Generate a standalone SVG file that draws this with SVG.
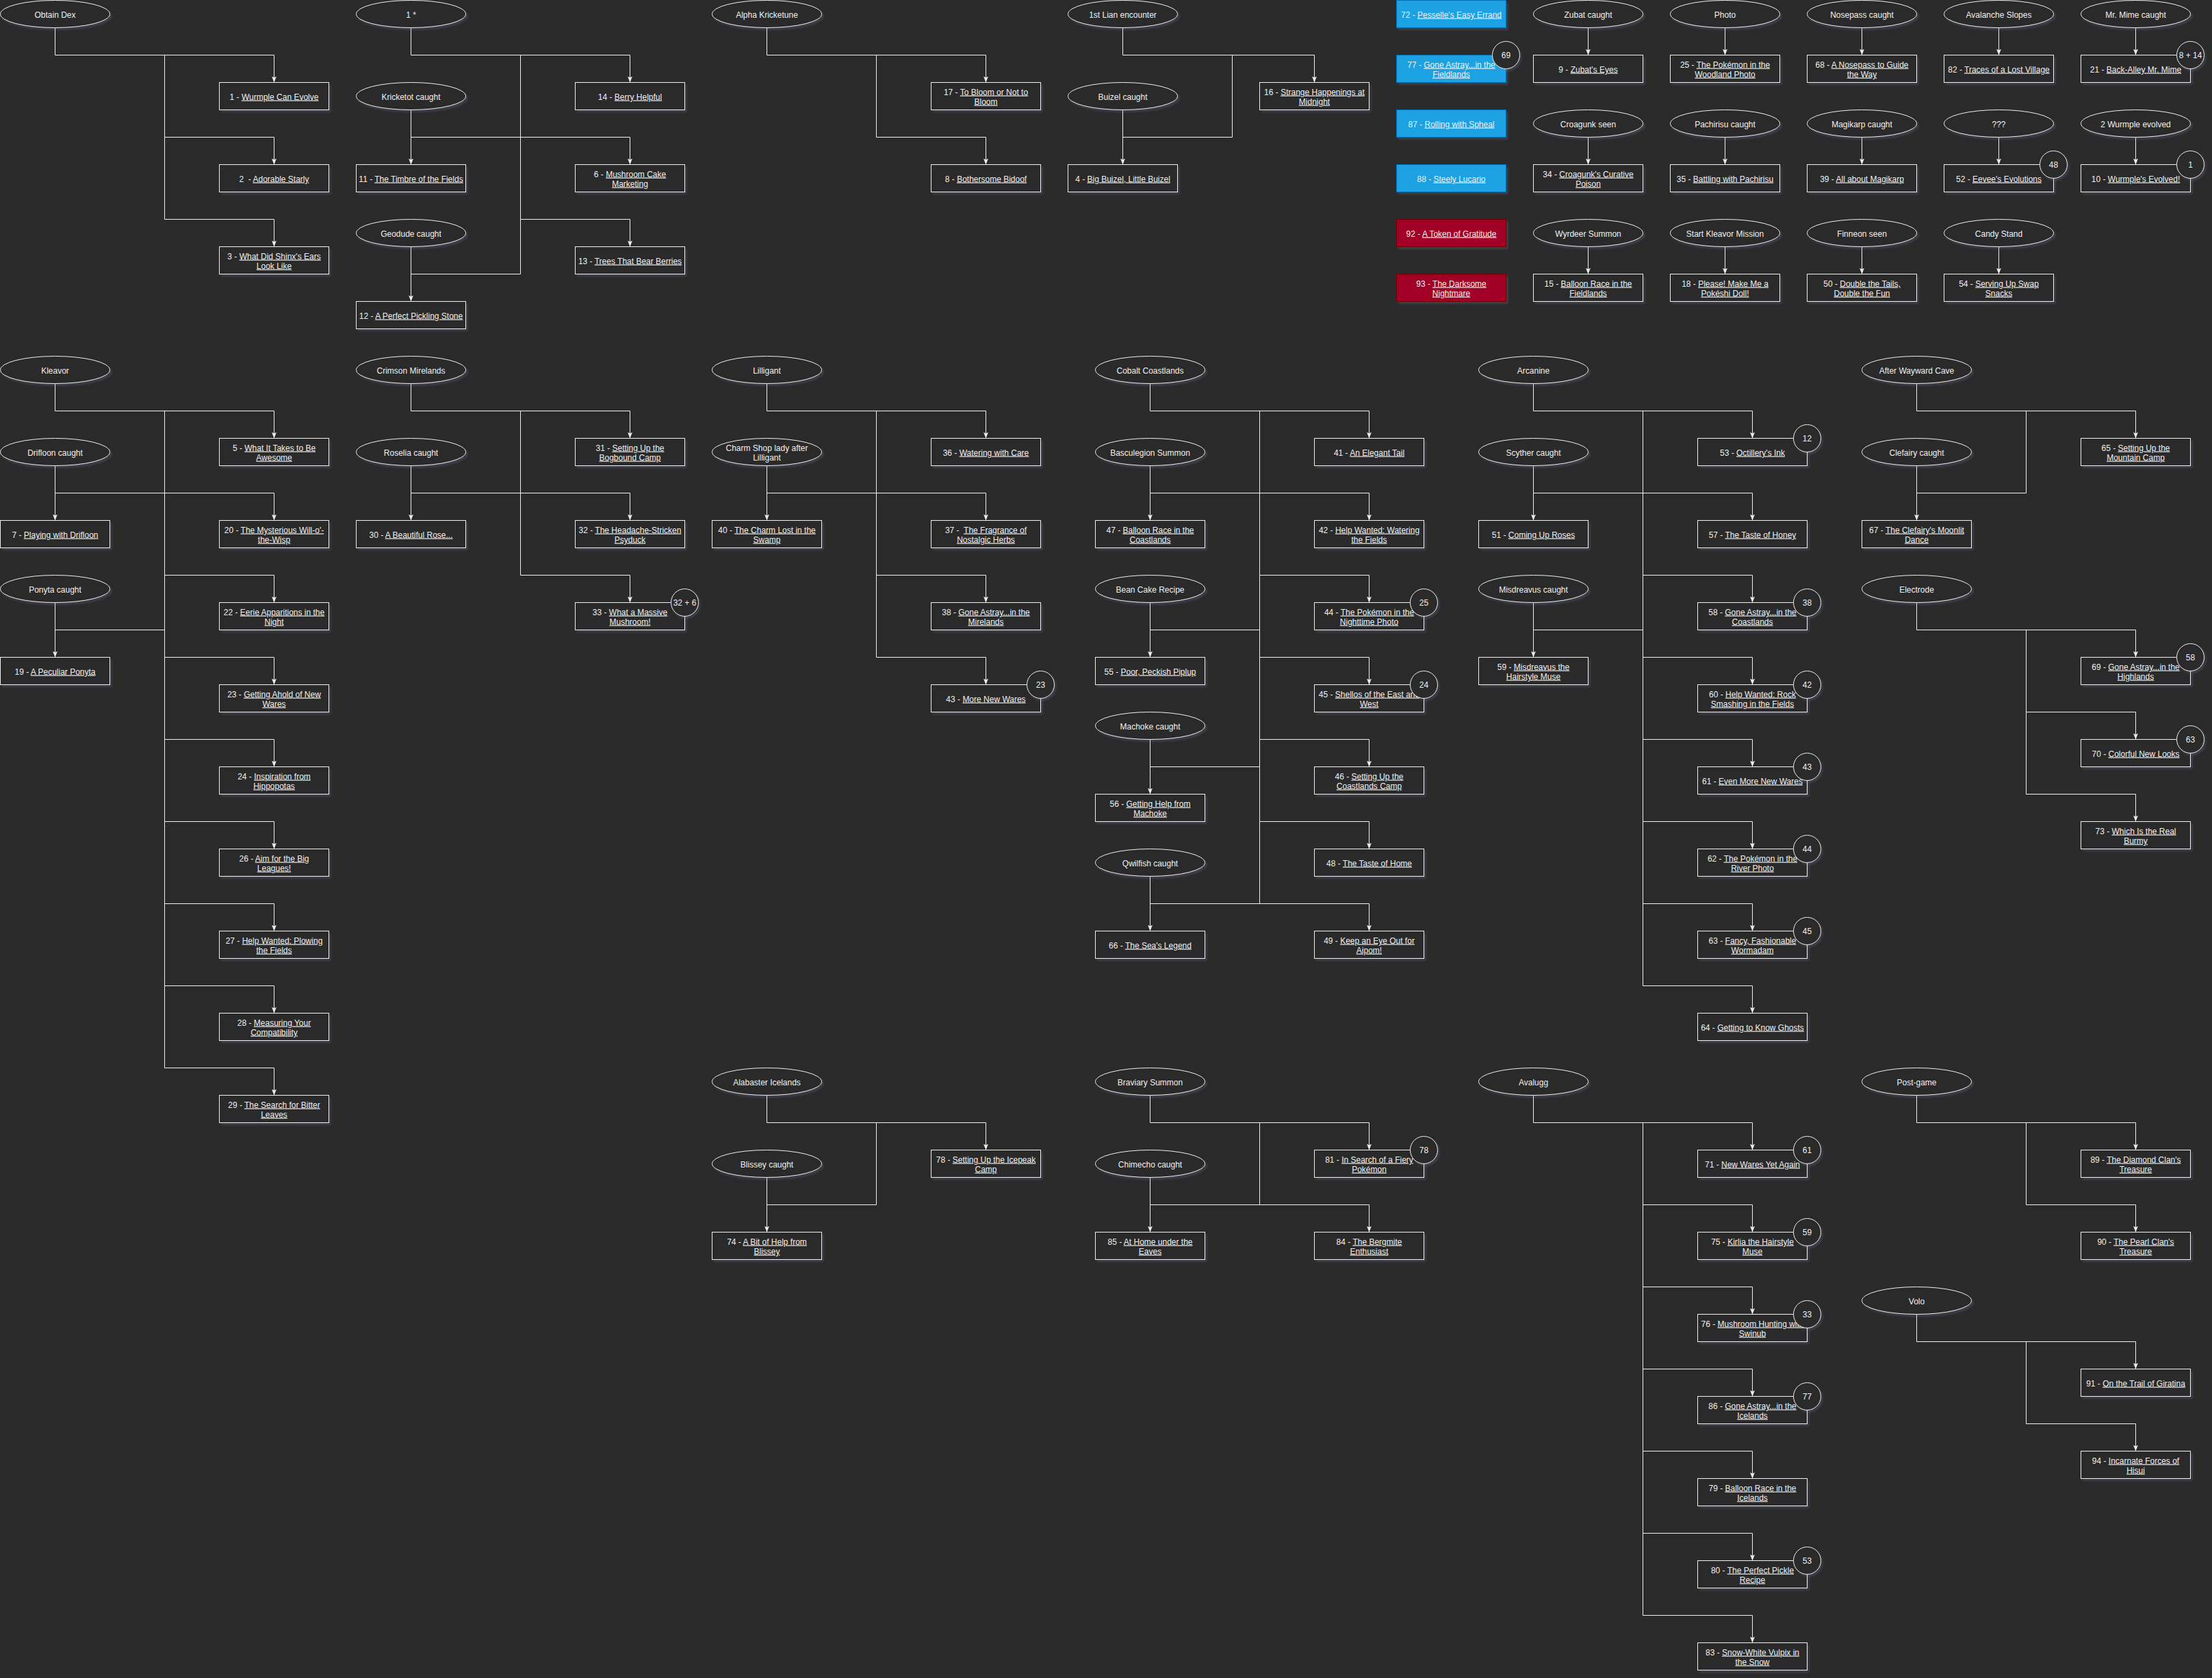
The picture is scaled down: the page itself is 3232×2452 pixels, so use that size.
<svg xmlns="http://www.w3.org/2000/svg" width="3232" height="2452" viewBox="0 0 3232 2452">
<defs>
<style>
.n rect,.n ellipse,.k circle{fill:#2a2a2a;stroke:#f0f0f0;stroke-width:1;filter:url(#sh)}
.n.b rect{fill:#1ba1e2;stroke:#006eaf}
.n.r rect{fill:#a20025;stroke:#6f0000}
text{font-family:"Liberation Sans",Arial,Helvetica,sans-serif;font-size:12px;fill:#f0f0f0;text-anchor:middle}
.u{text-decoration:underline}
.pre{white-space:pre}
#connectors path{fill:none;stroke:#f0f0f0;stroke-width:1}
#connectors path.ar{marker-end:url(#arr)}
</style>
<filter id="sh" x="-10%" y="-20%" width="130%" height="160%"><feDropShadow dx="2.5" dy="3" stdDeviation="1.5" flood-color="#8c8cc8" flood-opacity="0.22"/></filter>
<marker id="arr" viewBox="0 0 9 7" refX="9" refY="3.5" markerWidth="9" markerHeight="7" markerUnits="userSpaceOnUse" orient="auto"><path d="M0,0 L9,3.5 L0,7 L2,3.5 Z" fill="#f0f0f0"/></marker>
</defs>
<rect width="3232" height="2452" fill="#2a2a2a"/>
<g transform="translate(0.5,0.5)">
<g id="connectors">
<path class="ar" d="M80 40V80H400V120"/>
<path class="ar" d="M240 80V320H400V360"/>
<path class="ar" d="M240 200H400V240"/>
<path class="ar" d="M600 40V80H920V120"/>
<path d="M760 80V400H600"/>
<path class="ar" d="M600 160V240"/>
<path class="ar" d="M600 200H920V240"/>
<path class="ar" d="M760 320H920V360"/>
<path class="ar" d="M600 360V440"/>
<path class="ar" d="M1120 40V80H1440V120"/>
<path class="ar" d="M1280 80V200H1440V240"/>
<path class="ar" d="M1640 40V80H1920V120"/>
<path d="M1800 80V200H1640"/>
<path class="ar" d="M1640 160V240"/>
<path class="ar" d="M2320 40V80"/><path class="ar" d="M2520 40V80"/><path class="ar" d="M2720 40V80"/><path class="ar" d="M2920 40V80"/><path class="ar" d="M3120 40V80"/>
<path class="ar" d="M2320 200V240"/><path class="ar" d="M2520 200V240"/><path class="ar" d="M2720 200V240"/><path class="ar" d="M2920 200V240"/><path class="ar" d="M3120 200V240"/>
<path class="ar" d="M2320 360V400"/><path class="ar" d="M2520 360V400"/><path class="ar" d="M2720 360V400"/><path class="ar" d="M2920 360V400"/>
<path class="ar" d="M80 560V600H400V640"/>
<path class="ar" d="M240 600V1560H400V1600"/>
<path class="ar" d="M80 680V760"/>
<path class="ar" d="M80 720H400V760"/>
<path class="ar" d="M240 840H400V880"/>
<path class="ar" d="M80 880V960"/>
<path d="M80 920H240"/>
<path class="ar" d="M240 960H400V1000"/>
<path class="ar" d="M240 1080H400V1120"/>
<path class="ar" d="M240 1200H400V1240"/>
<path class="ar" d="M240 1320H400V1360"/>
<path class="ar" d="M240 1440H400V1480"/>
<path class="ar" d="M600 560V600H920V640"/>
<path class="ar" d="M760 600V840H920V880"/>
<path class="ar" d="M600 680V760"/>
<path class="ar" d="M600 720H920V760"/>
<path class="ar" d="M1120 560V600H1440V640"/>
<path class="ar" d="M1280 600V960H1440V1000"/>
<path class="ar" d="M1120 680V760"/>
<path class="ar" d="M1120 720H1440V760"/>
<path class="ar" d="M1280 840H1440V880"/>
<path class="ar" d="M1680 560V600H2000V640"/>
<path d="M1840 600V1320"/>
<path class="ar" d="M1680 680V760"/>
<path class="ar" d="M1680 720H2000V760"/>
<path class="ar" d="M1840 840H2000V880"/>
<path class="ar" d="M1680 880V960"/>
<path d="M1680 920H1840"/>
<path class="ar" d="M1840 960H2000V1000"/>
<path class="ar" d="M1840 1080H2000V1120"/>
<path class="ar" d="M1680 1080V1160"/>
<path d="M1680 1120H1840"/>
<path class="ar" d="M1840 1200H2000V1240"/>
<path class="ar" d="M1680 1280V1360"/>
<path class="ar" d="M1680 1320H2000V1360"/>
<path class="ar" d="M2240 560V600H2560V640"/>
<path class="ar" d="M2400 600V1440H2560V1480"/>
<path class="ar" d="M2240 680V760"/>
<path class="ar" d="M2240 720H2560V760"/>
<path class="ar" d="M2400 840H2560V880"/>
<path class="ar" d="M2240 880V960"/>
<path d="M2240 920H2400"/>
<path class="ar" d="M2400 960H2560V1000"/>
<path class="ar" d="M2400 1080H2560V1120"/>
<path class="ar" d="M2400 1200H2560V1240"/>
<path class="ar" d="M2400 1320H2560V1360"/>
<path class="ar" d="M2800 560V600H3120V640"/>
<path d="M2960 600V720H2800"/>
<path class="ar" d="M2800 680V760"/>
<path class="ar" d="M2800 880V920H3120V960"/>
<path class="ar" d="M2960 920V1160H3120V1200"/>
<path class="ar" d="M2960 1040H3120V1080"/>
<path class="ar" d="M1120 1600V1640H1440V1680"/>
<path d="M1280 1640V1760H1120"/>
<path class="ar" d="M1120 1720V1800"/>
<path class="ar" d="M1680 1600V1640H2000V1680"/>
<path d="M1840 1640V1760"/>
<path class="ar" d="M1680 1720V1800"/>
<path class="ar" d="M1680 1760H2000V1800"/>
<path class="ar" d="M2240 1600V1640H2560V1680"/>
<path class="ar" d="M2400 1640V2360H2560V2400"/>
<path class="ar" d="M2400 1760H2560V1800"/>
<path class="ar" d="M2400 1880H2560V1920"/>
<path class="ar" d="M2400 2000H2560V2040"/>
<path class="ar" d="M2400 2120H2560V2160"/>
<path class="ar" d="M2400 2240H2560V2280"/>
<path class="ar" d="M2800 1600V1640H3120V1680"/>
<path class="ar" d="M2960 1640V1760H3120V1800"/>
<path class="ar" d="M2800 1920V1960H3120V2000"/>
<path class="ar" d="M2960 1960V2080H3120V2120"/>
</g>
<g id="nodes">
<g id="e-obtain" class="n"><ellipse cx="80" cy="20" rx="80" ry="20"/><text x="80" y="25">Obtain Dex</text></g>
<g id="q1" class="n"><rect x="320" y="120" width="160" height="40"/><text x="400" y="145">1 - <tspan class="u">Wurmple Can Evolve</tspan></text></g>
<g id="q2" class="n"><rect x="320" y="240" width="160" height="40"/><text class="pre" x="400" y="265">2  - <tspan class="u">Adorable Starly</tspan></text></g>
<g id="q3" class="n"><rect x="320" y="360" width="160" height="40"/><text x="400" y="378">3 - <tspan class="u">What Did Shinx's Ears</tspan><tspan class="u" x="400" dy="14">Look Like</tspan></text></g>
<g id="e-1star" class="n"><ellipse cx="600" cy="20" rx="80" ry="20"/><text x="600" y="25">1 *</text></g>
<g id="e-kricketot" class="n"><ellipse cx="600" cy="140" rx="80" ry="20"/><text x="600" y="145">Kricketot caught</text></g>
<g id="q14" class="n"><rect x="840" y="120" width="160" height="40"/><text x="920" y="145">14 - <tspan class="u">Berry Helpful</tspan></text></g>
<g id="q11" class="n"><rect x="520" y="240" width="160" height="40"/><text x="600" y="265">11 - <tspan class="u">The Timbre of the Fields</tspan></text></g>
<g id="q6" class="n"><rect x="840" y="240" width="160" height="40"/><text x="920" y="258">6 - <tspan class="u">Mushroom Cake</tspan><tspan class="u" x="920" dy="14">Marketing</tspan></text></g>
<g id="e-geodude" class="n"><ellipse cx="600" cy="340" rx="80" ry="20"/><text x="600" y="345">Geodude caught</text></g>
<g id="q13" class="n"><rect x="840" y="360" width="160" height="40"/><text x="920" y="385">13 - <tspan class="u">Trees That Bear Berries</tspan></text></g>
<g id="q12" class="n"><rect x="520" y="440" width="160" height="40"/><text x="600" y="465">12 - <tspan class="u">A Perfect Pickling Stone</tspan></text></g>
<g id="e-alpha" class="n"><ellipse cx="1120" cy="20" rx="80" ry="20"/><text x="1120" y="25">Alpha Kricketune</text></g>
<g id="q17" class="n"><rect x="1360" y="120" width="160" height="40"/><text x="1440" y="138">17 - <tspan class="u">To Bloom or Not to</tspan><tspan class="u" x="1440" dy="14">Bloom</tspan></text></g>
<g id="q8" class="n"><rect x="1360" y="240" width="160" height="40"/><text x="1440" y="265">8 - <tspan class="u">Bothersome Bidoof</tspan></text></g>
<g id="e-lian" class="n"><ellipse cx="1640" cy="20" rx="80" ry="20"/><text x="1640" y="25">1st Lian encounter</text></g>
<g id="e-buizel" class="n"><ellipse cx="1640" cy="140" rx="80" ry="20"/><text x="1640" y="145">Buizel caught</text></g>
<g id="q16" class="n"><rect x="1840" y="120" width="160" height="40"/><text x="1920" y="138">16 - <tspan class="u">Strange Happenings at</tspan><tspan class="u" x="1920" dy="14">Midnight</tspan></text></g>
<g id="q4" class="n"><rect x="1560" y="240" width="160" height="40"/><text x="1640" y="265">4 - <tspan class="u">Big Buizel, Little Buizel</tspan></text></g>
<g id="q72" class="n b"><rect x="2040" y="0" width="160" height="40"/><text x="2120" y="25">72 - <tspan class="u">Pesselle's Easy Errand</tspan></text></g>
<g id="q77" class="n b"><rect x="2040" y="80" width="160" height="40"/><text x="2120" y="98">77 - <tspan class="u">Gone Astray...in the</tspan><tspan class="u" x="2120" dy="14">Fieldlands</tspan></text></g>
<g id="q87" class="n b"><rect x="2040" y="160" width="160" height="40"/><text x="2120" y="185">87 - <tspan class="u">Rolling with Spheal</tspan></text></g>
<g id="q88" class="n b"><rect x="2040" y="240" width="160" height="40"/><text x="2120" y="265">88 - <tspan class="u">Steely Lucario</tspan></text></g>
<g id="q92" class="n r"><rect x="2040" y="320" width="160" height="40"/><text x="2120" y="345">92 - <tspan class="u">A Token of Gratitude</tspan></text></g>
<g id="q93" class="n r"><rect x="2040" y="400" width="160" height="40"/><text x="2120" y="418">93 - <tspan class="u">The Darksome</tspan><tspan class="u" x="2120" dy="14">Nightmare</tspan></text></g>
<g id="e-zubat" class="n"><ellipse cx="2320" cy="20" rx="80" ry="20"/><text x="2320" y="25">Zubat caught</text></g>
<g id="q9" class="n"><rect x="2240" y="80" width="160" height="40"/><text x="2320" y="105">9 - <tspan class="u">Zubat's Eyes</tspan></text></g>
<g id="e-photo" class="n"><ellipse cx="2520" cy="20" rx="80" ry="20"/><text x="2520" y="25">Photo</text></g>
<g id="q25" class="n"><rect x="2440" y="80" width="160" height="40"/><text x="2520" y="98">25 - <tspan class="u">The Pokémon in the</tspan><tspan class="u" x="2520" dy="14">Woodland Photo</tspan></text></g>
<g id="e-nosepass" class="n"><ellipse cx="2720" cy="20" rx="80" ry="20"/><text x="2720" y="25">Nosepass caught</text></g>
<g id="q68" class="n"><rect x="2640" y="80" width="160" height="40"/><text x="2720" y="98">68 - <tspan class="u">A Nosepass to Guide</tspan><tspan class="u" x="2720" dy="14">the Way</tspan></text></g>
<g id="e-avalanche" class="n"><ellipse cx="2920" cy="20" rx="80" ry="20"/><text x="2920" y="25">Avalanche Slopes</text></g>
<g id="q82" class="n"><rect x="2840" y="80" width="160" height="40"/><text x="2920" y="105">82 - <tspan class="u">Traces of a Lost Village</tspan></text></g>
<g id="e-mime" class="n"><ellipse cx="3120" cy="20" rx="80" ry="20"/><text x="3120" y="25">Mr. Mime caught</text></g>
<g id="q21" class="n"><rect x="3040" y="80" width="160" height="40"/><text x="3120" y="105">21 - <tspan class="u">Back-Alley Mr. Mime</tspan></text></g>
<g id="e-croagunk" class="n"><ellipse cx="2320" cy="180" rx="80" ry="20"/><text x="2320" y="185">Croagunk seen</text></g>
<g id="q34" class="n"><rect x="2240" y="240" width="160" height="40"/><text x="2320" y="258">34 - <tspan class="u">Croagunk's Curative</tspan><tspan class="u" x="2320" dy="14">Poison</tspan></text></g>
<g id="e-pachirisu" class="n"><ellipse cx="2520" cy="180" rx="80" ry="20"/><text x="2520" y="185">Pachirisu caught</text></g>
<g id="q35" class="n"><rect x="2440" y="240" width="160" height="40"/><text x="2520" y="265">35 - <tspan class="u">Battling with Pachirisu</tspan></text></g>
<g id="e-magikarp" class="n"><ellipse cx="2720" cy="180" rx="80" ry="20"/><text x="2720" y="185">Magikarp caught</text></g>
<g id="q39" class="n"><rect x="2640" y="240" width="160" height="40"/><text x="2720" y="265">39 - <tspan class="u">All about Magikarp</tspan></text></g>
<g id="e-unknown" class="n"><ellipse cx="2920" cy="180" rx="80" ry="20"/><text x="2920" y="185">???</text></g>
<g id="q52" class="n"><rect x="2840" y="240" width="160" height="40"/><text x="2920" y="265">52 - <tspan class="u">Eevee's Evolutions</tspan></text></g>
<g id="e-wurmple2" class="n"><ellipse cx="3120" cy="180" rx="80" ry="20"/><text x="3120" y="185">2 Wurmple evolved</text></g>
<g id="q10" class="n"><rect x="3040" y="240" width="160" height="40"/><text x="3120" y="265">10 - <tspan class="u">Wurmple's Evolved!</tspan></text></g>
<g id="e-wyrdeer" class="n"><ellipse cx="2320" cy="340" rx="80" ry="20"/><text x="2320" y="345">Wyrdeer Summon</text></g>
<g id="q15" class="n"><rect x="2240" y="400" width="160" height="40"/><text x="2320" y="418">15 - <tspan class="u">Balloon Race in the</tspan><tspan class="u" x="2320" dy="14">Fieldlands</tspan></text></g>
<g id="e-kleavormission" class="n"><ellipse cx="2520" cy="340" rx="80" ry="20"/><text x="2520" y="345">Start Kleavor Mission</text></g>
<g id="q18" class="n"><rect x="2440" y="400" width="160" height="40"/><text x="2520" y="418">18 - <tspan class="u">Please! Make Me a</tspan><tspan class="u" x="2520" dy="14">Pokéshi Doll!</tspan></text></g>
<g id="e-finneon" class="n"><ellipse cx="2720" cy="340" rx="80" ry="20"/><text x="2720" y="345">Finneon seen</text></g>
<g id="q50" class="n"><rect x="2640" y="400" width="160" height="40"/><text x="2720" y="418">50 - <tspan class="u">Double the Tails,</tspan><tspan class="u" x="2720" dy="14">Double the Fun</tspan></text></g>
<g id="e-candy" class="n"><ellipse cx="2920" cy="340" rx="80" ry="20"/><text x="2920" y="345">Candy Stand</text></g>
<g id="q54" class="n"><rect x="2840" y="400" width="160" height="40"/><text x="2920" y="418">54 - <tspan class="u">Serving Up Swap</tspan><tspan class="u" x="2920" dy="14">Snacks</tspan></text></g>
<g id="e-kleavor" class="n"><ellipse cx="80" cy="540" rx="80" ry="20"/><text x="80" y="545">Kleavor</text></g>
<g id="q5" class="n"><rect x="320" y="640" width="160" height="40"/><text x="400" y="658">5 - <tspan class="u">What It Takes to Be</tspan><tspan class="u" x="400" dy="14">Awesome</tspan></text></g>
<g id="e-drifloon" class="n"><ellipse cx="80" cy="660" rx="80" ry="20"/><text x="80" y="665">Drifloon caught</text></g>
<g id="q7" class="n"><rect x="0" y="760" width="160" height="40"/><text x="80" y="785">7 - <tspan class="u">Playing with Drifloon</tspan></text></g>
<g id="q20" class="n"><rect x="320" y="760" width="160" height="40"/><text x="400" y="778">20 - <tspan class="u">The Mysterious Will-o'-</tspan><tspan class="u" x="400" dy="14">the-Wisp</tspan></text></g>
<g id="e-ponyta" class="n"><ellipse cx="80" cy="860" rx="80" ry="20"/><text x="80" y="865">Ponyta caught</text></g>
<g id="q22" class="n"><rect x="320" y="880" width="160" height="40"/><text x="400" y="898">22 - <tspan class="u">Eerie Apparitions in the</tspan><tspan class="u" x="400" dy="14">Night</tspan></text></g>
<g id="q19" class="n"><rect x="0" y="960" width="160" height="40"/><text x="80" y="985">19 - <tspan class="u">A Peculiar Ponyta</tspan></text></g>
<g id="q23" class="n"><rect x="320" y="1000" width="160" height="40"/><text x="400" y="1018">23 - <tspan class="u">Getting Ahold of New</tspan><tspan class="u" x="400" dy="14">Wares</tspan></text></g>
<g id="q24" class="n"><rect x="320" y="1120" width="160" height="40"/><text x="400" y="1138">24 - <tspan class="u">Inspiration from</tspan><tspan class="u" x="400" dy="14">Hippopotas</tspan></text></g>
<g id="q26" class="n"><rect x="320" y="1240" width="160" height="40"/><text x="400" y="1258">26 - <tspan class="u">Aim for the Big</tspan><tspan class="u" x="400" dy="14">Leagues!</tspan></text></g>
<g id="q27" class="n"><rect x="320" y="1360" width="160" height="40"/><text x="400" y="1378">27 - <tspan class="u">Help Wanted: Plowing</tspan><tspan class="u" x="400" dy="14">the Fields</tspan></text></g>
<g id="q28" class="n"><rect x="320" y="1480" width="160" height="40"/><text x="400" y="1498">28 - <tspan class="u">Measuring Your</tspan><tspan class="u" x="400" dy="14">Compatibility</tspan></text></g>
<g id="q29" class="n"><rect x="320" y="1600" width="160" height="40"/><text x="400" y="1618">29 - <tspan class="u">The Search for Bitter</tspan><tspan class="u" x="400" dy="14">Leaves</tspan></text></g>
<g id="e-crimson" class="n"><ellipse cx="600" cy="540" rx="80" ry="20"/><text x="600" y="545">Crimson Mirelands</text></g>
<g id="q31" class="n"><rect x="840" y="640" width="160" height="40"/><text x="920" y="658">31 - <tspan class="u">Setting Up the</tspan><tspan class="u" x="920" dy="14">Bogbound Camp</tspan></text></g>
<g id="e-roselia" class="n"><ellipse cx="600" cy="660" rx="80" ry="20"/><text x="600" y="665">Roselia caught</text></g>
<g id="q30" class="n"><rect x="520" y="760" width="160" height="40"/><text x="600" y="785">30 - <tspan class="u">A Beautiful Rose...</tspan></text></g>
<g id="q32" class="n"><rect x="840" y="760" width="160" height="40"/><text x="920" y="778">32 - <tspan class="u">The Headache-Stricken</tspan><tspan class="u" x="920" dy="14">Psyduck</tspan></text></g>
<g id="q33" class="n"><rect x="840" y="880" width="160" height="40"/><text x="920" y="898">33 - <tspan class="u">What a Massive</tspan><tspan class="u" x="920" dy="14">Mushroom!</tspan></text></g>
<g id="e-lilligant" class="n"><ellipse cx="1120" cy="540" rx="80" ry="20"/><text x="1120" y="545">Lilligant</text></g>
<g id="q36" class="n"><rect x="1360" y="640" width="160" height="40"/><text x="1440" y="665">36 - <tspan class="u">Watering with Care</tspan></text></g>
<g id="e-charm" class="n"><ellipse cx="1120" cy="660" rx="80" ry="20"/><text x="1120" y="658">Charm Shop lady after<tspan x="1120" dy="14">Lilligant</tspan></text></g>
<g id="q40" class="n"><rect x="1040" y="760" width="160" height="40"/><text x="1120" y="778">40 - <tspan class="u">The Charm Lost in the</tspan><tspan class="u" x="1120" dy="14">Swamp</tspan></text></g>
<g id="q37" class="n"><rect x="1360" y="760" width="160" height="40"/><text class="pre" x="1440" y="778">37 -  <tspan class="u">The Fragrance of</tspan><tspan class="u" x="1440" dy="14">Nostalgic Herbs</tspan></text></g>
<g id="q38" class="n"><rect x="1360" y="880" width="160" height="40"/><text x="1440" y="898">38 - <tspan class="u">Gone Astray...in the</tspan><tspan class="u" x="1440" dy="14">Mirelands</tspan></text></g>
<g id="q43" class="n"><rect x="1360" y="1000" width="160" height="40"/><text x="1440" y="1025">43 - <tspan class="u">More New Wares</tspan></text></g>
<g id="e-cobalt" class="n"><ellipse cx="1680" cy="540" rx="80" ry="20"/><text x="1680" y="545">Cobalt Coastlands</text></g>
<g id="q41" class="n"><rect x="1920" y="640" width="160" height="40"/><text x="2000" y="665">41 - <tspan class="u">An Elegant Tail</tspan></text></g>
<g id="e-basculegion" class="n"><ellipse cx="1680" cy="660" rx="80" ry="20"/><text x="1680" y="665">Basculegion Summon</text></g>
<g id="q47" class="n"><rect x="1600" y="760" width="160" height="40"/><text x="1680" y="778">47 - <tspan class="u">Balloon Race in the</tspan><tspan class="u" x="1680" dy="14">Coastlands</tspan></text></g>
<g id="q42" class="n"><rect x="1920" y="760" width="160" height="40"/><text x="2000" y="778">42 - <tspan class="u">Help Wanted: Watering</tspan><tspan class="u" x="2000" dy="14">the Fields</tspan></text></g>
<g id="e-beancake" class="n"><ellipse cx="1680" cy="860" rx="80" ry="20"/><text x="1680" y="865">Bean Cake Recipe</text></g>
<g id="q44" class="n"><rect x="1920" y="880" width="160" height="40"/><text x="2000" y="898">44 - <tspan class="u">The Pokémon in the</tspan><tspan class="u" x="2000" dy="14">Nighttime Photo</tspan></text></g>
<g id="q55" class="n"><rect x="1600" y="960" width="160" height="40"/><text x="1680" y="985">55 - <tspan class="u">Poor, Peckish Piplup</tspan></text></g>
<g id="q45" class="n"><rect x="1920" y="1000" width="160" height="40"/><text x="2000" y="1018">45 - <tspan class="u">Shellos of the East and</tspan><tspan class="u" x="2000" dy="14">West</tspan></text></g>
<g id="e-machoke" class="n"><ellipse cx="1680" cy="1060" rx="80" ry="20"/><text x="1680" y="1065">Machoke caught</text></g>
<g id="q46" class="n"><rect x="1920" y="1120" width="160" height="40"/><text x="2000" y="1138">46 - <tspan class="u">Setting Up the</tspan><tspan class="u" x="2000" dy="14">Coastlands Camp</tspan></text></g>
<g id="q56" class="n"><rect x="1600" y="1160" width="160" height="40"/><text x="1680" y="1178">56 - <tspan class="u">Getting Help from</tspan><tspan class="u" x="1680" dy="14">Machoke</tspan></text></g>
<g id="e-qwilfish" class="n"><ellipse cx="1680" cy="1260" rx="80" ry="20"/><text x="1680" y="1265">Qwilfish caught</text></g>
<g id="q48" class="n"><rect x="1920" y="1240" width="160" height="40"/><text x="2000" y="1265">48 - <tspan class="u">The Taste of Home</tspan></text></g>
<g id="q66" class="n"><rect x="1600" y="1360" width="160" height="40"/><text x="1680" y="1385">66 - <tspan class="u">The Sea's Legend</tspan></text></g>
<g id="q49" class="n"><rect x="1920" y="1360" width="160" height="40"/><text x="2000" y="1378">49 - <tspan class="u">Keep an Eye Out for</tspan><tspan class="u" x="2000" dy="14">Aipom!</tspan></text></g>
<g id="e-arcanine" class="n"><ellipse cx="2240" cy="540" rx="80" ry="20"/><text x="2240" y="545">Arcanine</text></g>
<g id="q53" class="n"><rect x="2480" y="640" width="160" height="40"/><text x="2560" y="665">53 - <tspan class="u">Octillery's Ink</tspan></text></g>
<g id="e-scyther" class="n"><ellipse cx="2240" cy="660" rx="80" ry="20"/><text x="2240" y="665">Scyther caught</text></g>
<g id="q51" class="n"><rect x="2160" y="760" width="160" height="40"/><text x="2240" y="785">51 - <tspan class="u">Coming Up Roses</tspan></text></g>
<g id="q57" class="n"><rect x="2480" y="760" width="160" height="40"/><text x="2560" y="785">57 - <tspan class="u">The Taste of Honey</tspan></text></g>
<g id="e-misdreavus" class="n"><ellipse cx="2240" cy="860" rx="80" ry="20"/><text x="2240" y="865">Misdreavus caught</text></g>
<g id="q58" class="n"><rect x="2480" y="880" width="160" height="40"/><text x="2560" y="898">58 - <tspan class="u">Gone Astray...in the</tspan><tspan class="u" x="2560" dy="14">Coastlands</tspan></text></g>
<g id="q59" class="n"><rect x="2160" y="960" width="160" height="40"/><text x="2240" y="978">59 - <tspan class="u">Misdreavus the</tspan><tspan class="u" x="2240" dy="14">Hairstyle Muse</tspan></text></g>
<g id="q60" class="n"><rect x="2480" y="1000" width="160" height="40"/><text x="2560" y="1018">60 - <tspan class="u">Help Wanted: Rock</tspan><tspan class="u" x="2560" dy="14">Smashing in the Fields</tspan></text></g>
<g id="q61" class="n"><rect x="2480" y="1120" width="160" height="40"/><text x="2560" y="1145">61 - <tspan class="u">Even More New Wares</tspan></text></g>
<g id="q62" class="n"><rect x="2480" y="1240" width="160" height="40"/><text x="2560" y="1258">62 - <tspan class="u">The Pokémon in the</tspan><tspan class="u" x="2560" dy="14">River Photo</tspan></text></g>
<g id="q63" class="n"><rect x="2480" y="1360" width="160" height="40"/><text x="2560" y="1378">63 - <tspan class="u">Fancy, Fashionable</tspan><tspan class="u" x="2560" dy="14">Wormadam</tspan></text></g>
<g id="q64" class="n"><rect x="2480" y="1480" width="160" height="40"/><text x="2560" y="1505">64 - <tspan class="u">Getting to Know Ghosts</tspan></text></g>
<g id="e-wayward" class="n"><ellipse cx="2800" cy="540" rx="80" ry="20"/><text x="2800" y="545">After Wayward Cave</text></g>
<g id="q65" class="n"><rect x="3040" y="640" width="160" height="40"/><text x="3120" y="658">65 - <tspan class="u">Setting Up the</tspan><tspan class="u" x="3120" dy="14">Mountain Camp</tspan></text></g>
<g id="e-clefairy" class="n"><ellipse cx="2800" cy="660" rx="80" ry="20"/><text x="2800" y="665">Clefairy caught</text></g>
<g id="q67" class="n"><rect x="2720" y="760" width="160" height="40"/><text x="2800" y="778">67 - <tspan class="u">The Clefairy's Moonlit</tspan><tspan class="u" x="2800" dy="14">Dance</tspan></text></g>
<g id="e-electrode" class="n"><ellipse cx="2800" cy="860" rx="80" ry="20"/><text x="2800" y="865">Electrode</text></g>
<g id="q69" class="n"><rect x="3040" y="960" width="160" height="40"/><text x="3120" y="978">69 - <tspan class="u">Gone Astray...in the</tspan><tspan class="u" x="3120" dy="14">Highlands</tspan></text></g>
<g id="q70" class="n"><rect x="3040" y="1080" width="160" height="40"/><text x="3120" y="1105">70 - <tspan class="u">Colorful New Looks</tspan></text></g>
<g id="q73" class="n"><rect x="3040" y="1200" width="160" height="40"/><text x="3120" y="1218">73 - <tspan class="u">Which Is the Real</tspan><tspan class="u" x="3120" dy="14">Burmy</tspan></text></g>
<g id="e-alabaster" class="n"><ellipse cx="1120" cy="1580" rx="80" ry="20"/><text x="1120" y="1585">Alabaster Icelands</text></g>
<g id="q78" class="n"><rect x="1360" y="1680" width="160" height="40"/><text x="1440" y="1698">78 - <tspan class="u">Setting Up the Icepeak</tspan><tspan class="u" x="1440" dy="14">Camp</tspan></text></g>
<g id="e-blissey" class="n"><ellipse cx="1120" cy="1700" rx="80" ry="20"/><text x="1120" y="1705">Blissey caught</text></g>
<g id="q74" class="n"><rect x="1040" y="1800" width="160" height="40"/><text x="1120" y="1818">74 - <tspan class="u">A Bit of Help from</tspan><tspan class="u" x="1120" dy="14">Blissey</tspan></text></g>
<g id="e-braviary" class="n"><ellipse cx="1680" cy="1580" rx="80" ry="20"/><text x="1680" y="1585">Braviary Summon</text></g>
<g id="q81" class="n"><rect x="1920" y="1680" width="160" height="40"/><text x="2000" y="1698">81 - <tspan class="u">In Search of a Fiery</tspan><tspan class="u" x="2000" dy="14">Pokémon</tspan></text></g>
<g id="e-chimecho" class="n"><ellipse cx="1680" cy="1700" rx="80" ry="20"/><text x="1680" y="1705">Chimecho caught</text></g>
<g id="q85" class="n"><rect x="1600" y="1800" width="160" height="40"/><text x="1680" y="1818">85 - <tspan class="u">At Home under the</tspan><tspan class="u" x="1680" dy="14">Eaves</tspan></text></g>
<g id="q84" class="n"><rect x="1920" y="1800" width="160" height="40"/><text x="2000" y="1818">84 - <tspan class="u">The Bergmite</tspan><tspan class="u" x="2000" dy="14">Enthusiast</tspan></text></g>
<g id="e-avalugg" class="n"><ellipse cx="2240" cy="1580" rx="80" ry="20"/><text x="2240" y="1585">Avalugg</text></g>
<g id="q71" class="n"><rect x="2480" y="1680" width="160" height="40"/><text x="2560" y="1705">71 - <tspan class="u">New Wares Yet Again</tspan></text></g>
<g id="q75" class="n"><rect x="2480" y="1800" width="160" height="40"/><text x="2560" y="1818">75 - <tspan class="u">Kirlia the Hairstyle</tspan><tspan class="u" x="2560" dy="14">Muse</tspan></text></g>
<g id="q76" class="n"><rect x="2480" y="1920" width="160" height="40"/><text x="2560" y="1938">76 - <tspan class="u">Mushroom Hunting with</tspan><tspan class="u" x="2560" dy="14">Swinub</tspan></text></g>
<g id="q86" class="n"><rect x="2480" y="2040" width="160" height="40"/><text x="2560" y="2058">86 - <tspan class="u">Gone Astray...in the</tspan><tspan class="u" x="2560" dy="14">Icelands</tspan></text></g>
<g id="q79" class="n"><rect x="2480" y="2160" width="160" height="40"/><text x="2560" y="2178">79 - <tspan class="u">Balloon Race in the</tspan><tspan class="u" x="2560" dy="14">Icelands</tspan></text></g>
<g id="q80" class="n"><rect x="2480" y="2280" width="160" height="40"/><text x="2560" y="2298">80 - <tspan class="u">The Perfect Pickle</tspan><tspan class="u" x="2560" dy="14">Recipe</tspan></text></g>
<g id="q83" class="n"><rect x="2480" y="2400" width="160" height="40"/><text x="2560" y="2418">83 - <tspan class="u">Snow-White Vulpix in</tspan><tspan class="u" x="2560" dy="14">the Snow</tspan></text></g>
<g id="e-postgame" class="n"><ellipse cx="2800" cy="1580" rx="80" ry="20"/><text x="2800" y="1585">Post-game</text></g>
<g id="q89" class="n"><rect x="3040" y="1680" width="160" height="40"/><text x="3120" y="1698">89 - <tspan class="u">The Diamond Clan's</tspan><tspan class="u" x="3120" dy="14">Treasure</tspan></text></g>
<g id="q90" class="n"><rect x="3040" y="1800" width="160" height="40"/><text x="3120" y="1818">90 - <tspan class="u">The Pearl Clan's</tspan><tspan class="u" x="3120" dy="14">Treasure</tspan></text></g>
<g id="e-volo" class="n"><ellipse cx="2800" cy="1900" rx="80" ry="20"/><text x="2800" y="1905">Volo</text></g>
<g id="q91" class="n"><rect x="3040" y="2000" width="160" height="40"/><text x="3120" y="2025">91 - <tspan class="u">On the Trail of Giratina</tspan></text></g>
<g id="q94" class="n"><rect x="3040" y="2120" width="160" height="40"/><text x="3120" y="2138">94 - <tspan class="u">Incarnate Forces of</tspan><tspan class="u" x="3120" dy="14">Hisui</tspan></text></g>
</g>
<g id="badges">
<g id="k-q77" class="k"><circle cx="2200" cy="80" r="20"/><text x="2200" y="84.5">69</text></g>
<g id="k-q21" class="k"><circle cx="3200" cy="80" r="20"/><text x="3200" y="84.5">8 + 14</text></g>
<g id="k-q52" class="k"><circle cx="3000" cy="240" r="20"/><text x="3000" y="244.5">48</text></g>
<g id="k-q10" class="k"><circle cx="3200" cy="240" r="20"/><text x="3200" y="244.5">1</text></g>
<g id="k-q33" class="k"><circle cx="1000" cy="880" r="20"/><text x="1000" y="884.5">32 + 6</text></g>
<g id="k-q43" class="k"><circle cx="1520" cy="1000" r="20"/><text x="1520" y="1004.5">23</text></g>
<g id="k-q44" class="k"><circle cx="2080" cy="880" r="20"/><text x="2080" y="884.5">25</text></g>
<g id="k-q45" class="k"><circle cx="2080" cy="1000" r="20"/><text x="2080" y="1004.5">24</text></g>
<g id="k-q53" class="k"><circle cx="2640" cy="640" r="20"/><text x="2640" y="644.5">12</text></g>
<g id="k-q58" class="k"><circle cx="2640" cy="880" r="20"/><text x="2640" y="884.5">38</text></g>
<g id="k-q60" class="k"><circle cx="2640" cy="1000" r="20"/><text x="2640" y="1004.5">42</text></g>
<g id="k-q61" class="k"><circle cx="2640" cy="1120" r="20"/><text x="2640" y="1124.5">43</text></g>
<g id="k-q62" class="k"><circle cx="2640" cy="1240" r="20"/><text x="2640" y="1244.5">44</text></g>
<g id="k-q63" class="k"><circle cx="2640" cy="1360" r="20"/><text x="2640" y="1364.5">45</text></g>
<g id="k-q69" class="k"><circle cx="3200" cy="960" r="20"/><text x="3200" y="964.5">58</text></g>
<g id="k-q70" class="k"><circle cx="3200" cy="1080" r="20"/><text x="3200" y="1084.5">63</text></g>
<g id="k-q81" class="k"><circle cx="2080" cy="1680" r="20"/><text x="2080" y="1684.5">78</text></g>
<g id="k-q71" class="k"><circle cx="2640" cy="1680" r="20"/><text x="2640" y="1684.5">61</text></g>
<g id="k-q75" class="k"><circle cx="2640" cy="1800" r="20"/><text x="2640" y="1804.5">59</text></g>
<g id="k-q76" class="k"><circle cx="2640" cy="1920" r="20"/><text x="2640" y="1924.5">33</text></g>
<g id="k-q86" class="k"><circle cx="2640" cy="2040" r="20"/><text x="2640" y="2044.5">77</text></g>
<g id="k-q80" class="k"><circle cx="2640" cy="2280" r="20"/><text x="2640" y="2284.5">53</text></g>
</g>
</g>
</svg>
